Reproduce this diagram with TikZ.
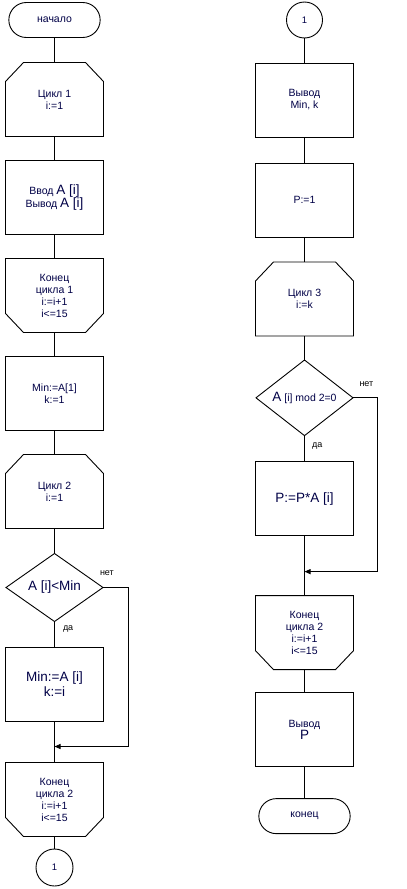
\documentclass[tikz,border=0pt]{standalone}
\usepackage{fontspec}
\setmainfont{Liberation Sans}
\usetikzlibrary{shapes.geometric, shapes.misc, arrows.meta, positioning}
\definecolor{inkblue}{RGB}{0,0,70}
\newcommand{\bigfnt}{\fontsize{13.5}{15}\selectfont}

\begin{document}
\begin{tikzpicture}[
            x=1pt, y=1pt,
            line width=0.9pt,
            node distance=24pt,
            every node/.style={font=\fontsize{10.5}{12}\selectfont, text=inkblue, align=center, outer sep=0pt},
            terminal/.style={
                    rounded rectangle,
                    draw,
                    minimum width=98pt,
                    minimum height=35pt
                },
            process/.style={
                    rectangle,
                    draw,
                    minimum width=98pt,
                    minimum height=74pt
                },
            loopbegin/.style={
                    rectangle,
                    minimum width=98pt,
                    minimum height=74pt,
                    append after command={\pgfextra{
                        \draw ([xshift=18pt]\tikzlastnode.north west)
                          -- ([xshift=-18pt]\tikzlastnode.north east)
                          -- ([yshift=-19pt]\tikzlastnode.north east)
                          -- (\tikzlastnode.south east)
                          -- (\tikzlastnode.south west)
                          -- ([yshift=-19pt]\tikzlastnode.north west) -- cycle;}}
                },
            loopend/.style={
                    rectangle,
                    minimum width=98pt,
                    minimum height=74pt,
                    append after command={\pgfextra{
                        \draw (\tikzlastnode.north west)
                          -- (\tikzlastnode.north east)
                          -- ([yshift=19pt]\tikzlastnode.south east)
                          -- ([xshift=-18pt]\tikzlastnode.south east)
                          -- ([xshift=18pt]\tikzlastnode.south west)
                          -- ([yshift=19pt]\tikzlastnode.south west) -- cycle;}}
                },
            decision/.style={
                    diamond,
                    draw,
                    inner sep=0pt,
                    minimum width=97pt,
                    minimum height=68pt
                },
            connector/.style={
                    circle,
                    draw,
                    minimum size=36pt,
                    font=\fontsize{9.5}{10}\selectfont
                },
            answer/.style={
                    inner sep=1pt,
                    text=black,
                    font=\fontsize{9}{10}\selectfont
                },
            arrow/.style={
            -{Triangle[length=6pt,width=5pt]}
            }
            ]

            \useasboundingbox (0,0) rectangle (407,-889);

            % Kolonka 1
            \node (start) [terminal] at (54.5,-20) {начало};

            \node (cycle1) [loopbegin, below=25pt of start] {Цикл 1\\i:=1};

            \node (input) [process, below=of cycle1] {Ввод {\bigfnt A [i]}\\Вывод {\bigfnt A [i]}};

            \node (end1) [loopend, below=of input] {Конец\\цикла 1\\i:=i+1\\i<=15};

            \node (init) [process, below=of end1] {Min:=A[1]\\k:=1};

            \node (cycle2) [loopbegin, below=of init] {Цикл 2\\i:=1};

            \node (cmp1) [decision, below=25pt of cycle2, font=\bigfnt] {A [i]<Min};

            \node (setmin) [process, below=26pt of cmp1, font=\bigfnt] {Min:=A [i]\\k:=i};

            \node (end2) [loopend, below=41pt of setmin] {Конец\\цикла 2\\i:=i+1\\i<=15};

            \node (link1) [connector, minimum size=37pt, below=12.5pt of end2] {1};

            \coordinate (join1) at ([yshift=-25pt]setmin.south);

            \node (no1) [answer, anchor=south west] at ([xshift=-4pt, yshift=10.5pt]cmp1.east) {нет};
            \node (yes1) [answer, anchor=north west] at ([xshift=7.5pt, yshift=-3.5pt]cmp1.south) {да};

            % Kolonka 2
            \node (link2) [connector] at (304.5,-20) {1};

            \node (output1) [process, below=25pt of link2] {Вывод\\Min, k};

            \node (pinit) [process, below=26pt of output1] {P:=1};

            \node (cycle3) [loopbegin, below=25pt of pinit] {Цикл 3\\i:=k};

            \node (cmp2) [decision, below=of cycle3] {{\bigfnt A} [i] mod 2=0};

            \node (mult) [process, below=26pt of cmp2, font=\bigfnt] {P:=P*A [i]};

            \node (end3) [loopend, below=60pt of mult] {Конец\\цикла 2\\i:=i+1\\i<=15};

            \node (output2) [process, below=23pt of end3] {Вывод\\{\bigfnt P}};

            \node (stop) [terminal, below=32pt of output2] {конец};

            \coordinate (join2) at ([yshift=-36pt]mult.south);

            \node (no2) [answer, anchor=south west] at ([xshift=5.5pt, yshift=10.5pt]cmp2.east) {нет};
            \node (yes2) [answer, anchor=north west] at ([xshift=6.5pt, yshift=-6pt]cmp2.south) {да};

            % Linii
            \draw (start) -- (cycle1);
            \draw (cycle1) -- (input);
            \draw (input) -- (end1);
            \draw (end1) -- (init);
            \draw (init) -- (cycle2);
            \draw (cycle2) -- (cmp1);
            \draw (cmp1) -- (setmin);
            \draw (setmin) -- (end2);
            \draw (end2) -- (link1);
            \draw [arrow] (cmp1.east) -- ++(25pt,0) |- (join1);

            \draw (link2) -- (output1);
            \draw (output1) -- (pinit);
            \draw (pinit) -- (cycle3);
            \draw (cycle3) -- (cmp2);
            \draw (cmp2) -- (mult);
            \draw (mult) -- (end3);
            \draw (end3) -- (output2);
            \draw (output2) -- (stop);
            \draw [arrow] (cmp2.east) -- ++(24.5pt,0) |- (join2);

        \end{tikzpicture}
\end{document}
